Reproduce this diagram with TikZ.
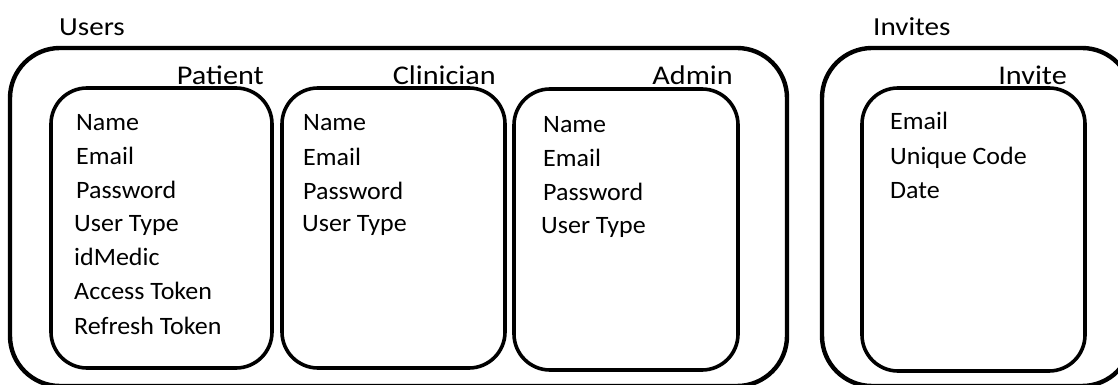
\documentclass[tikz,border=0pt]{standalone}
\usepackage{fontspec}
\setmainfont{Carlito}
\newfontfamily\headfont[FakeStretch=1.12]{Carlito}
\newfontfamily\fieldfont[FakeStretch=1.04]{Carlito}
\begin{document}
\begin{tikzpicture}[x=1pt,y=1pt,
  groupbox/.style={draw=black,line width=4.4pt,rounded corners=50pt},
  classbox/.style={draw=black,line width=3.6pt,rounded corners=36pt},
  title/.style={anchor=base west,inner sep=0pt,font=\headfont\fontsize{26}{30}\selectfont},
  classname/.style={anchor=base east,inner sep=0pt,font=\headfont\fontsize{27}{30}\selectfont},
  field/.style={anchor=base west,inner sep=0pt,font=\fieldfont\fontsize{25}{30}\selectfont}]
\useasboundingbox (0,0) rectangle (1118,385);
\clip (0,0) rectangle (1118,385);

% collections
\draw[groupbox] (10,-1) rectangle (787,337);
\draw[groupbox] (822,-1) rectangle (1132,337);
\node[title] (users) at (59,349) {Users};
\node[title] (invites) at (873,349) {Invites};

% document types
\draw[classbox] (51,17) rectangle (272,297);
\draw[classbox] (282,17) rectangle (505,297);
\draw[classbox] (514,15) rectangle (738,296);
\draw[classbox] (862,14) rectangle (1085,297);
\node[classname] (patient) at (264,300) {Patient};
\node[classname] (clinician) at (496,300) {Clinician};
\node[classname] (admin) at (733,300) {Admin};
\node[classname] (invite) at (1067,300) {Invite};

% Patient fields
\node[field] (p1) at (76,254) {Name};
\node[field] (p2) at (76,220) {Email};
\node[field] (p3) at (76,186) {Password};
\node[field] (p4) at (74,153) {User Type};
\node[field] (p5) at (74,119) {idMedic};
\node[field] (p6) at (74,85) {Access Token};
\node[field] (p7) at (74,50) {Refresh Token};

% Clinician fields
\node[field] (c1) at (303,254) {Name};
\node[field] (c2) at (303,219) {Email};
\node[field] (c3) at (303,185) {Password};
\node[field] (c4) at (302,153) {User Type};

% Admin fields
\node[field] (a1) at (543,252) {Name};
\node[field] (a2) at (543,218) {Email};
\node[field] (a3) at (543,184) {Password};
\node[field] (a4) at (541,151) {User Type};

% Invite fields
\node[field] (i1) at (890,255) {Email};
\node[field] (i2) at (890,220) {Unique Code};
\node[field] (i3) at (890,186) {Date};
\end{tikzpicture}
\end{document}
